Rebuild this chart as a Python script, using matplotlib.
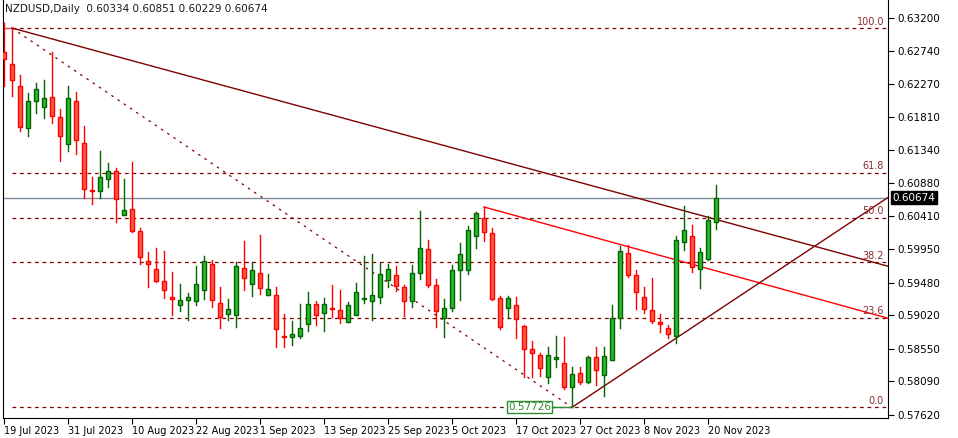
import matplotlib

matplotlib.use("Agg")
import matplotlib.pyplot as plt
import numpy as np
import pandas as pd

# NZDUSD daily OHLC, 19 Jul 2023 .. 21 Nov 2023
opens = [0.62722, 0.62553, 0.62244, 0.61653, 0.62033, 0.61949, 0.62089, 0.61808, 0.61428, 0.62033,
         0.61442, 0.60775, 0.60768, 0.60936, 0.61049, 0.60430, 0.60514, 0.60205, 0.59783, 0.59671,
         0.59502, 0.59277, 0.59165, 0.59235, 0.59221, 0.59376, 0.59741, 0.59193, 0.59038, 0.59024,
         0.59685, 0.59460, 0.59615, 0.59305, 0.59305, 0.58729, 0.58715, 0.58729, 0.58898, 0.59179,
         0.59052, 0.59123, 0.59094, 0.58926, 0.59024, 0.59256, 0.59221, 0.59277, 0.59516, 0.59586,
         0.59418, 0.59221, 0.59615, 0.59952, 0.59446, 0.58982, 0.59123, 0.59657, 0.59657, 0.60135,
         0.60388, 0.60177, 0.59263, 0.59123, 0.59165, 0.58869, 0.58546, 0.58462, 0.58152, 0.58405,
         0.58349, 0.58012, 0.58209, 0.58082, 0.58434, 0.58180, 0.58391, 0.58982, 0.59896, 0.59586,
         0.59277, 0.59094, 0.58926, 0.58841, 0.58729, 0.60050, 0.60135, 0.59671, 0.59811, 0.60334]
highs = [0.63130, 0.63059, 0.62398, 0.62145, 0.62286, 0.62328, 0.62722, 0.61920, 0.62244, 0.62159,
         0.61681, 0.60964, 0.61330, 0.61161, 0.61091, 0.60936, 0.61175, 0.60247, 0.59910, 0.59966,
         0.59924, 0.59629, 0.59460, 0.59333, 0.59713, 0.59854, 0.59797, 0.59418, 0.59249, 0.59769,
         0.60065, 0.59769, 0.60149, 0.59601, 0.59418, 0.59038, 0.58940, 0.59179, 0.59347, 0.59221,
         0.59263, 0.59446, 0.59376, 0.59207, 0.59474, 0.59854, 0.59882, 0.59755, 0.59741, 0.59713,
         0.59446, 0.59727, 0.60486, 0.60079, 0.59530, 0.59249, 0.59727, 0.60036, 0.60275, 0.60472,
         0.60543, 0.60247, 0.59291, 0.59291, 0.59277, 0.58880, 0.58659, 0.58490, 0.58574, 0.58729,
         0.58715, 0.58293, 0.58293, 0.58448, 0.58574, 0.58574, 0.59165, 0.59994, 0.60008, 0.59657,
         0.59418, 0.59544, 0.59038, 0.58884, 0.60135, 0.60557, 0.60289, 0.59966, 0.60416, 0.60851]
lows = [0.62244, 0.62103, 0.61611, 0.61541, 0.61864, 0.61794, 0.61724, 0.61189, 0.61330, 0.61288,
        0.60669, 0.60585, 0.60669, 0.60824, 0.60332, 0.60430, 0.60191, 0.59741, 0.59418, 0.59488,
        0.59263, 0.59024, 0.59080, 0.58954, 0.59165, 0.59249, 0.59137, 0.58841, 0.58954, 0.58855,
        0.59376, 0.59291, 0.59319, 0.59305, 0.58574, 0.58574, 0.58602, 0.58701, 0.58799, 0.58884,
        0.58799, 0.58996, 0.58912, 0.58926, 0.59024, 0.59193, 0.58954, 0.59193, 0.59418, 0.59362,
        0.59010, 0.59137, 0.59530, 0.59418, 0.58855, 0.58715, 0.59080, 0.59235, 0.59601, 0.59966,
        0.60065, 0.59240, 0.58827, 0.58982, 0.58701, 0.58152, 0.58152, 0.58166, 0.58068, 0.58293,
        0.57984, 0.57726, 0.58054, 0.58068, 0.58040, 0.57885, 0.58391, 0.58841, 0.59558, 0.59108,
        0.59052, 0.58912, 0.58785, 0.58701, 0.58630, 0.59938, 0.59629, 0.59404, 0.59797, 0.60229]
closes = [0.62623, 0.62328, 0.61667, 0.62033, 0.62202, 0.62075, 0.61822, 0.61541, 0.62075, 0.61485,
          0.60796, 0.60768, 0.60964, 0.61049, 0.60655, 0.60500, 0.60205, 0.59840, 0.59741, 0.59502,
          0.59376, 0.59249, 0.59235, 0.59277, 0.59460, 0.59783, 0.59235, 0.58996, 0.59108, 0.59713,
          0.59544, 0.59657, 0.59404, 0.59390, 0.58827, 0.58715, 0.58757, 0.58841, 0.59179, 0.59024,
          0.59179, 0.59108, 0.58982, 0.59165, 0.59347, 0.59263, 0.59305, 0.59601, 0.59671, 0.59432,
          0.59221, 0.59615, 0.59966, 0.59446, 0.59080, 0.59123, 0.59657, 0.59882, 0.60219, 0.60458,
          0.60191, 0.59249, 0.58855, 0.59263, 0.58968, 0.58546, 0.58490, 0.58279, 0.58462, 0.58434,
          0.58012, 0.58195, 0.58082, 0.58434, 0.58251, 0.58448, 0.58982, 0.59924, 0.59586, 0.59347,
          0.59108, 0.58940, 0.58898, 0.58757, 0.60079, 0.60219, 0.59699, 0.59910, 0.60360, 0.60674]

dates = pd.bdate_range("2023-07-19", periods=len(opens))

# Fibonacci retracement between swing high and swing low
fib_high, fib_low = 0.63059, 0.57726
fib_high_bar, fib_low_bar = 1, 71
fib_levels = [0.0, 23.6, 38.2, 50.0, 61.8, 100.0]

# trendlines: (bar, price) -> (bar, price)
trend_upper = ((1, 0.63059), (110.4, 0.59713))
trend_mid = ((60, 0.60543), (110.4, 0.58982))
trend_rise = ((71, 0.57726), (110.4, 0.60669))

last_price = closes[-1]
yticks = [0.63200, 0.62740, 0.62270, 0.61810, 0.61340, 0.60880, 0.60410,
          0.59950, 0.59480, 0.59020, 0.58550, 0.58090, 0.57620]
xtick_bars = [0, 8, 16, 24, 32, 40, 48, 56, 64, 72, 80, 88]

DARK_RED = "#800000"
UP_FILL, UP_EDGE = "#2DB52D", "#006400"
DN_FILL, DN_EDGE = "#FF5A45", "#FF0000"

fig = plt.figure(figsize=(9.58, 4.38), dpi=100)
ax = fig.add_axes([3 / 958, 20 / 438, 885 / 958, 418 / 438])
ax.set_xlim(-0.125, 110.5)

x_right = 110.5

# fib levels
for lvl in fib_levels:
    p = fib_low + (fib_high - fib_low) * lvl / 100
    ax.plot([1, x_right], [p, p], color=DARK_RED, lw=0.9, ls=(0, (3, 3)), zorder=1)
    ax.text(110.0, p + 0.0002, f"{lvl:.1f}", color="#8B2A2A", fontsize=7,
            ha="right", va="bottom", zorder=3)
ax.plot([-0.2, 1], [fib_high, fib_high], color="#E04060", lw=1, zorder=1)
ax.plot([fib_high_bar, fib_low_bar], [fib_high, fib_low], color=DARK_RED, lw=0.9,
        ls=(0, (2, 4)), zorder=1)

# current price line
ax.axhline(last_price, color="#7F8C9A", lw=1, zorder=1)


def extend(seg, color, lw=1.0):
    (x0, y0), (x1, y1) = seg
    slope = (y1 - y0) / (x1 - x0)
    ax.plot([x0, x_right], [y0, y0 + slope * (x_right - x0)], color=color, lw=lw, zorder=2)


extend(trend_upper, DARK_RED)
extend(trend_mid, "#FF0000")
extend(trend_rise, DARK_RED)

# candles
for i, (o, h, l, c) in enumerate(zip(opens, highs, lows, closes)):
    up = c >= o
    edge = UP_EDGE if up else DN_EDGE
    fill = UP_FILL if up else DN_FILL
    ax.plot([i, i], [l, h], color=edge, lw=1, zorder=4)
    lo, hi = min(o, c), max(o, c)
    ax.add_patch(plt.Rectangle((i - 0.3, lo), 0.6, max(hi - lo, 0.00004),
                               facecolor=fill, edgecolor=edge, lw=1, zorder=5))

# low label
ax.plot([fib_low_bar - 2.5, fib_low_bar], [fib_low, fib_low], color="#2E8B2E", lw=1, zorder=6)
ax.text(fib_low_bar - 2.6, fib_low, f"{fib_low:.5f}", color="#2E8B2E", fontsize=7.5,
        ha="right", va="center", zorder=7,
        bbox=dict(boxstyle="square,pad=0.1", fc="white", ec="#2E8B2E", lw=1))

# axes styling
ax.spines["top"].set_visible(False)
for s in ["left", "right", "bottom"]:
    ax.spines[s].set_color("black")
ax.yaxis.tick_right()
ax.set_yticks(yticks)
ax.set_yticklabels([f"{v:.5f}" for v in yticks], fontsize=7.5)
ax.tick_params(axis="y", length=4, pad=3)
ax.set_xticks(xtick_bars)
ax.set_xticklabels([dates[b].strftime("%-d %b %Y") for b in xtick_bars], fontsize=7, ha="left")
ax.tick_params(axis="x", length=4, pad=2)
ax.set_ylim(0.57576, 0.63453)

ax.text(1.005, last_price, f"{last_price:.5f}", transform=ax.get_yaxis_transform(),
        color="white", fontsize=7.5, ha="left", va="center", zorder=10,
        bbox=dict(boxstyle="square,pad=0.15", fc="black", ec="black"))

fig.text(5 / 958, 1 - 4 / 438, "NZDUSD,Daily  0.60334 0.60851 0.60229 0.60674", fontsize=7.5,
         color="#1a1a1a", ha="left", va="top", zorder=10,
         bbox=dict(boxstyle="square,pad=0.05", fc="white", ec="none"))

fig.savefig("out.png", dpi=100)
